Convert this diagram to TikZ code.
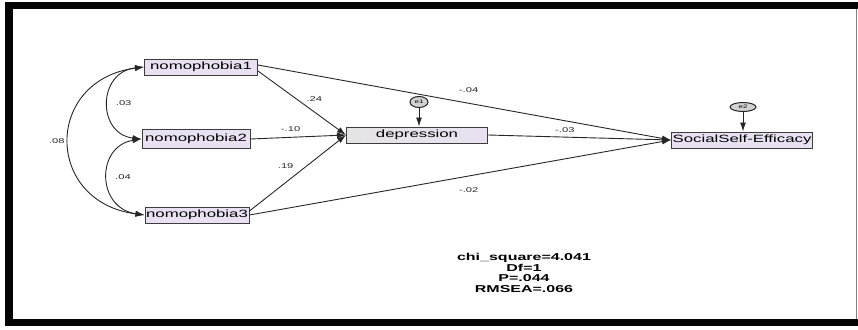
\documentclass[tikz,border=0pt]{standalone}
\usepackage{fontspec}
\newfontfamily\amosfont[FakeStretch=1.6]{Liberation Sans}
\usetikzlibrary{positioning,arrows.meta,shapes.geometric}
\definecolor{cBox}{HTML}{E9E1F2}
\definecolor{cGrey}{HTML}{E4E4E4}
\definecolor{cLine}{HTML}{262626}
\definecolor{cFrame}{HTML}{050505}
\tikzset{
  varbox/.style={draw=cLine!90,fill=cBox,line width=1pt,minimum height=16pt,
    inner sep=1pt,font=\amosfont\fontsize{10.5}{12}\selectfont},
  errnode/.style={ellipse,draw=cLine,fill=gray!35,line width=1pt,inner sep=0pt,
    font=\amosfont\fontsize{5}{6}\selectfont},
  regpath/.style={draw=cLine,line width=0.9pt,-{Latex[length=9pt,width=6pt]}},
  covpath/.style={draw=cLine,line width=0.9pt,{Latex[length=9pt,width=6pt]}-{Latex[length=9pt,width=6pt]}},
  coef/.style={font=\amosfont\fontsize{7}{8}\selectfont,inner sep=1pt,text=cLine}
}
\begin{document}
\begin{tikzpicture}[x=1pt,y=-1pt]
  \useasboundingbox (0,0) rectangle (858,329);
  % frame
  \fill[cFrame] (5,2) rectangle (858,9);
  \fill[cFrame] (5,2) rectangle (13,326);
  \fill[cFrame] (5,319) rectangle (858,326);
  \draw[gray,line width=1pt] (856.5,9) -- (856.5,319);

  % observed variables
  \node[varbox,minimum width=113pt] (nomo1) at (201,67) {nomophobia1};
  \node[varbox,minimum width=108pt,minimum height=19pt] (nomo2) at (196,139) {nomophobia2};
  \node[varbox,minimum width=104pt] (nomo3) at (197,215) {nomophobia3};
  \node[varbox,minimum width=141pt,left color=cGrey,right color=cBox] (dep) at (417,135) {depression};
  \node[varbox,minimum width=141pt] (sse) at (742,140) {SocialSelf-Efficacy};

  % residuals
  \node[errnode,minimum width=18pt,minimum height=11pt] (e1) at (419,102) {e1};
  \node[errnode,minimum width=26pt,minimum height=9pt] (e2) at (743,107) {e2};
  \draw[regpath] (e1) -- (dep.north -| e1);
  \draw[regpath] (e2) -- (sse.north -| e2);

  % regressions
  \draw[regpath] ([yshift=-4pt]nomo1.east) -- (dep.west)
    node[coef,pos=0.64,above=9pt] (c1) {.24};
  \draw[regpath] (nomo2.east) -- (dep.west)
    node[coef,pos=0.42,above=4pt] (c2) {-.10};
  \draw[regpath] ([yshift=4pt]nomo3.east) -- (dep.west)
    node[coef,pos=0.5,above left=4pt] (c3) {.19};
  \draw[regpath] ([yshift=2pt]nomo1.east) -- (sse.west)
    node[coef,pos=0.51,above=9pt] (c4) {-.04};
  \draw[regpath] (dep.east) -- (sse.west)
    node[coef,pos=0.42,above=3pt] (c5) {-.03};
  \draw[regpath] (nomo3.east) -- (sse.west)
    node[coef,pos=0.52,below=10pt] (c6) {-.02};

  % covariances
  \draw[covpath] (nomo1.west) .. controls (97,72) and (97,134) .. (nomo2.west)
    node[coef,pos=0.5,right=6pt] (k1) {.03};
  \draw[covpath] (nomo2.west) .. controls (96,146) and (96,208) .. (nomo3.west)
    node[coef,pos=0.5,right=6pt] (k2) {.04};
  \draw[covpath] (nomo1.west) .. controls (44,80) and (44,202) .. (nomo3.west)
    node[coef,pos=0.5,left=3pt] (k3) {.08};

  % fit statistics
  \node[font=\amosfont\bfseries\fontsize{10}{10.8}\selectfont,align=center,inner sep=0pt] (fit) at (524,273)
    {chi\_square=4.041\\Df=1\\P=.044\\RMSEA=.066};
\end{tikzpicture}
\end{document}
